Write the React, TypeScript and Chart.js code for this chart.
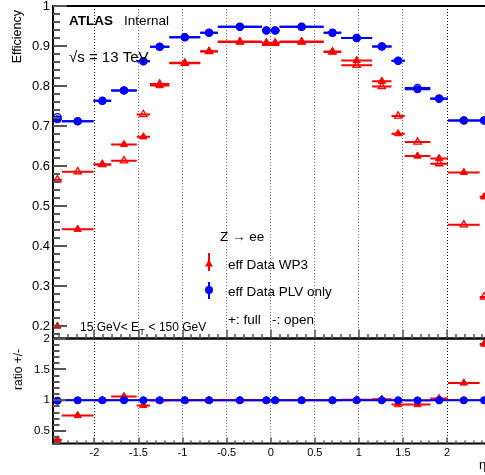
import React, { useEffect, useRef } from 'react';
import { Chart, registerables } from 'chart.js';

Chart.register(...registerables);

// ---- data ----
const etaEdges = [-2.47, -2.37, -2.01, -1.81, -1.52, -1.37, -1.15, -0.8, -0.6, -0.1, 0, 0.1, 0.6, 0.8, 1.15, 1.37, 1.52, 1.81, 2.01, 2.37, 2.47];

const wp3Full = [0.2, 0.442, 0.604, 0.654, 0.673, 0.801, 0.858, 0.887, 0.911, 0.908, 0.908, 0.911, 0.886, 0.864, 0.812, 0.681, 0.625, 0.619, 0.584, 0.523];
const wp3Open = [0.566, 0.586, 0.604, 0.613, 0.729, 0.805, 0.857, 0.886, 0.91, 0.907, 0.907, 0.91, 0.885, 0.852, 0.799, 0.725, 0.66, 0.606, 0.453, 0.273];
const plvFull = [0.717, 0.712, 0.763, 0.789, 0.862, 0.898, 0.922, 0.933, 0.948, 0.939, 0.939, 0.948, 0.933, 0.92, 0.899, 0.863, 0.792, 0.768, 0.714, 0.714];
const plvOpen = [0.722, 0.712, 0.763, 0.789, 0.862, 0.898, 0.922, 0.933, 0.948, 0.939, 0.939, 0.948, 0.933, 0.92, 0.899, 0.863, 0.795, 0.769, 0.714, 0.714];

const wp3Ratio = [0.36, 0.753, 1.0, 1.06, 0.915, 0.995, 1.0, 1.0, 1.0, 1.0, 1.0, 1.0, 1.0, 1.01, 1.016, 0.93, 0.93, 1.03, 1.28, 1.91];
const plvRatio = [0.993, 1.0, 1.0, 1.0, 1.0, 1.0, 1.0, 1.0, 1.0, 1.0, 1.0, 1.0, 1.0, 1.0, 1.0, 1.0, 0.997, 0.999, 1.0, 1.0];

const effTicks = [0.2, 0.3, 0.4, 0.5, 0.6, 0.7, 0.8, 0.9, 1];
const ratioTicks = [0.5, 1, 1.5, 2];
const etaTicks = [-2, -1.5, -1, -0.5, 0, 0.5, 1, 1.5, 2];

const FONT = '"Liberation Sans", Arial, Helvetica, sans-serif';
const RED = '#ff0000';
const BLUE = '#0000ff';

const centers = etaEdges.slice(0, -1).map((e, i) => (e + etaEdges[i + 1]) / 2);
const pts = (vals: number[]) => vals.map((v, i) => ({ x: centers[i], y: v }));
const bars = (vals: number[]) => {
  const out: any[] = [];
  vals.forEach((v, i) => {
    out.push({ x: etaEdges[i], y: v }, { x: etaEdges[i + 1], y: v }, { x: etaEdges[i + 1], y: null });
  });
  return out;
};

const markerDs = (data: any[], axis: string, color: string, style: string, open: boolean, order: number, r: number) => ({
  type: 'scatter',
  data,
  yAxisID: axis,
  showLine: false,
  pointStyle: style,
  pointRadius: r,
  pointBorderWidth: open ? 1.3 : 1,
  pointBorderColor: color,
  pointBackgroundColor: open ? 'rgba(0,0,0,0)' : color,
  order,
  clip: false,
});

const barDs = (data: any[], axis: string, color: string, order: number) => ({
  type: 'line',
  data,
  yAxisID: axis,
  borderColor: color,
  borderWidth: 2,
  pointRadius: 0,
  spanGaps: false,
  fill: false,
  tension: 0,
  order,
});

const decor = {
  id: 'decor',
  beforeDatasetsDraw(chart: any) {
    const { ctx, chartArea } = chart;
    const y2 = chart.scales.y2;
    const py = y2.getPixelForValue(1);
    ctx.save();
    ctx.setLineDash([]);
    ctx.strokeStyle = '#000';
    ctx.lineWidth = 1.5;
    ctx.beginPath();
    ctx.moveTo(chartArea.left, py);
    ctx.lineTo(chartArea.right, py);
    ctx.stroke();
    ctx.restore();
  },
  afterDraw(chart: any) {
    const ctx: CanvasRenderingContext2D = chart.ctx;
    const x = chart.scales.x;
    const y = chart.scales.y;
    const y2 = chart.scales.y2;
    const left = 53;
    const right = x.right;
    ctx.save();
    ctx.setLineDash([]);
    ctx.globalAlpha = 1;
    ctx.globalCompositeOperation = 'source-over';

    // frames
    ctx.strokeStyle = '#000';
    ctx.lineWidth = 2;
    ctx.strokeRect(x.left, y.top, right - x.left, y.bottom - y.top);
    ctx.strokeRect(x.left, y2.top, right - x.left, y2.bottom - y2.top);

    // ticks (inside the frame)
    ctx.strokeStyle = '#555';
    ctx.lineWidth = 2;
    ctx.beginPath();
    for (const v of [0.18, 0.2, 0.22, 0.24, 0.26, 0.28, 0.3, 0.32, 0.34, 0.36, 0.38, 0.4, 0.42, 0.44, 0.46, 0.48, 0.5, 0.52, 0.54, 0.56, 0.58, 0.6, 0.62, 0.64, 0.66, 0.68, 0.7, 0.72, 0.74, 0.76, 0.78, 0.8, 0.82, 0.84, 0.86, 0.88, 0.9, 0.92, 0.94, 0.96, 0.98, 1.0]) {
      const py = Math.round(y.getPixelForValue(v));
      const major = Math.abs(v * 10 - Math.round(v * 10)) < 1e-6;
      ctx.moveTo(left, py);
      ctx.lineTo(left + (major ? 14 : 7), py);
    }
    for (const v of [0.3, 0.4, 0.5, 0.6, 0.7, 0.8, 0.9, 1.0, 1.1, 1.2, 1.3, 1.4, 1.5, 1.6, 1.7, 1.8, 1.9, 2.0]) {
      const py = Math.round(y2.getPixelForValue(v));
      const major = Math.abs(v * 2 - Math.round(v * 2)) < 1e-6;
      ctx.moveTo(left, py);
      ctx.lineTo(left + (major ? 13 : 6.5), py);
    }
    ctx.stroke();
    ctx.lineWidth = 1.5;
    ctx.beginPath();
    for (let k = -24; k <= 24; k++) {
      const px = Math.round(x.getPixelForValue(k / 10));
      const major = k % 5 === 0;
      ctx.moveTo(px, y.bottom);
      ctx.lineTo(px, y.bottom - (major ? 9 : 4.5));
      ctx.moveTo(px, y2.bottom);
      ctx.lineTo(px, y2.bottom - (major ? 6 : 3));
    }
    ctx.stroke();

    // texts
    ctx.fillStyle = '#000';
    ctx.textBaseline = 'alphabetic';
    ctx.textAlign = 'left';
    ctx.font = `bold 13.5px ${FONT}`;
    ctx.fillText('ATLAS', 69, 25);
    ctx.font = `13.5px ${FONT}`;
    ctx.fillText('Internal', 124, 25);
    ctx.font = `15px ${FONT}`;
    ctx.fillText('\u221As = 13 TeV', 69, 62);
    ctx.font = `13.5px ${FONT}`;
    ctx.fillText('Z \u2192 ee', 220, 241);
    ctx.fillText('eff Data WP3', 228, 268.5);
    ctx.fillText('eff Data PLV only', 228, 296);
    ctx.fillText('+: full   -: open', 228, 323.5);
    // ET range
    ctx.font = `12px ${FONT}`;
    let tx = 80;
    const part1 = '15 GeV< E';
    ctx.fillText(part1, tx, 331);
    tx += ctx.measureText(part1).width;
    ctx.font = `8.5px ${FONT}`;
    ctx.fillText('T', tx + 0.5, 334.5);
    tx += ctx.measureText('T').width + 1;
    ctx.font = `12px ${FONT}`;
    ctx.fillText(' < 150 GeV', tx, 331);
    // eta label
    ctx.font = `13px ${FONT}`;
    ctx.fillText('\u03B7', 479, 469);
    // axis titles
    ctx.save();
    ctx.translate(21, 10);
    ctx.rotate(-Math.PI / 2);
    ctx.textAlign = 'right';
    ctx.font = `12.5px ${FONT}`;
    ctx.fillText('Efficiency', 0, 0);
    ctx.restore();
    ctx.save();
    ctx.translate(22, 349);
    ctx.rotate(-Math.PI / 2);
    ctx.textAlign = 'right';
    ctx.font = `12px ${FONT}`;
    ctx.fillText('ratio +/-', 0, 0);
    ctx.restore();

    // legend markers
    ctx.fillStyle = RED;
    ctx.fillRect(208, 253, 2, 18);
    ctx.beginPath();
    ctx.moveTo(209, 259.5);
    ctx.lineTo(213, 266.5);
    ctx.lineTo(205, 266.5);
    ctx.closePath();
    ctx.fill();
    ctx.fillStyle = BLUE;
    ctx.fillRect(208, 282, 2, 17);
    ctx.beginPath();
    ctx.arc(209, 290, 4, 0, Math.PI * 2);
    ctx.fill();
    ctx.restore();
  },
};

export default function App() {
  const ref = useRef<HTMLCanvasElement | null>(null);
  useEffect(() => {
    if (!ref.current) return;
    const chart = new Chart(ref.current, {
      type: 'scatter',
      data: {
        datasets: [
          markerDs(pts(plvOpen), 'y', BLUE, 'circle', true, 1, 3.6),
          markerDs(pts(plvFull), 'y', BLUE, 'circle', false, 2, 3.6),
          barDs(bars(plvOpen), 'y', BLUE, 3),
          barDs(bars(plvFull), 'y', BLUE, 3),
          markerDs(pts(wp3Open), 'y', RED, 'triangle', true, 4, 4.2),
          markerDs(pts(wp3Full), 'y', RED, 'triangle', false, 5, 4.2),
          barDs(bars(wp3Open), 'y', RED, 6),
          barDs(bars(wp3Full), 'y', RED, 6),
          markerDs(pts(plvRatio), 'y2', BLUE, 'circle', false, 1, 3.6),
          barDs(bars(plvRatio), 'y2', BLUE, 3),
          markerDs(pts(wp3Ratio), 'y2', RED, 'triangle', false, 4, 4.2),
          barDs(bars(wp3Ratio), 'y2', RED, 6),
        ] as any,
      },
      options: {
        animation: false,
        responsive: false,
        events: [],
        layout: { padding: { left: 0, right: 11.5, top: 6, bottom: 0 } },
        plugins: { legend: { display: false }, tooltip: { enabled: false } },
        scales: {
          x: {
            type: 'linear',
            position: 'bottom',
            min: -2.47,
            max: 2.47,
            afterBuildTicks: (s: any) => {
              s.ticks = etaTicks.map((v) => ({ value: v }));
            },
            afterFit: (s: any) => {
              s.height = 31.5;
              s.paddingLeft = 0;
              s.paddingRight = 0;
            },
            ticks: {
              autoSkip: false,
              maxRotation: 0,
              padding: 3,
              color: '#000',
              font: { family: FONT, size: 11 },
              callback: (v: any) => String(v),
            },
            grid: {
              drawTicks: false,
              lineWidth: 1,
              color: (c: any) => (c.tick && Math.abs(c.tick.value) === 2 ? '#000' : '#777'),
            },
            border: { display: false, dash: [1, 2] },
          },
          y: {
            type: 'linear',
            position: 'left',
            stack: 'panels',
            stackWeight: 332.5,
            weight: 2,
            min: 0.169,
            max: 1,
            afterBuildTicks: (s: any) => {
              s.ticks = effTicks.map((v) => ({ value: v }));
            },
            afterFit: (s: any) => {
              s.width = 53;
              s.paddingTop = 0;
              s.paddingBottom = 0;
            },
            ticks: {
              padding: 3,
              color: '#000',
              font: { family: FONT, size: 13 },
              callback: (v: any) => String(Math.round(v * 10) / 10),
            },
            grid: { display: false, drawTicks: false },
            border: { display: false },
          },
          y2: {
            type: 'linear',
            position: 'left',
            stack: 'panels',
            stackWeight: 105,
            weight: 1,
            min: 0.3,
            max: 2,
            afterBuildTicks: (s: any) => {
              s.ticks = ratioTicks.map((v) => ({ value: v }));
            },
            afterFit: (s: any) => {
              s.width = 53;
              s.paddingTop = 0;
              s.paddingBottom = 0;
            },
            ticks: {
              padding: 3,
              color: '#000',
              font: { family: FONT, size: 11.5 },
              callback: (v: any) => String(v),
            },
            grid: { display: false, drawTicks: false },
            border: { display: false },
          },
        },
      } as any,
      plugins: [decor],
    });
    return () => chart.destroy();
  }, []);

  return (
    <div style={{ position: 'absolute', left: 0, top: 0, width: 485, height: 475, overflow: 'hidden', background: '#fff' }}>
      <canvas ref={ref} width={500} height={475} style={{ display: 'block' }} />
    </div>
  );
}
